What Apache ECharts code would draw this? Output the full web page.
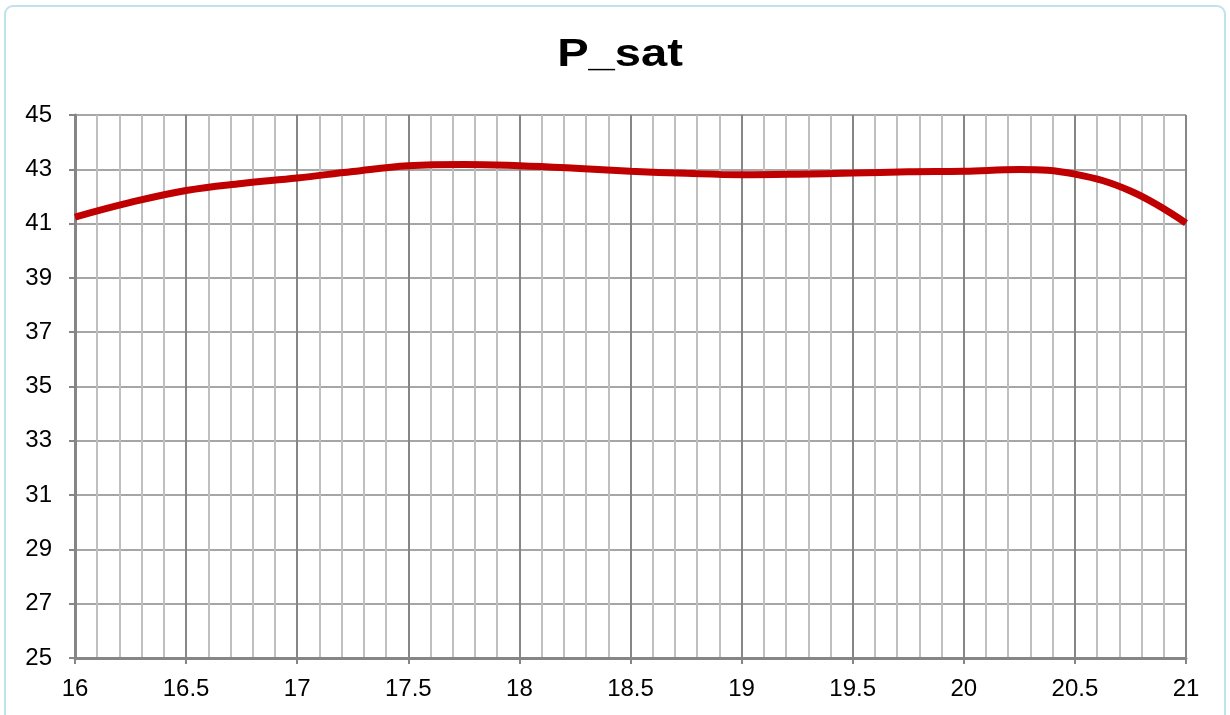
<!DOCTYPE html>
<html><head><meta charset="utf-8">
<script src="https://cdn.jsdelivr.net/npm/echarts@6/dist/echarts.min.js"></script>
<style>html,body{margin:0;padding:0;background:#fff}#c{width:1230px;height:715px}</style>
</head><body><div id="c"></div>
<script>
const xValues = [16, 16.25, 16.5, 16.75, 17, 17.25, 17.5, 17.75, 18, 18.25, 18.5, 18.75, 19, 19.25, 19.5, 19.75, 20, 20.25, 20.5, 20.75, 21];
const pSat   = [41.24, 41.78, 42.22, 42.48, 42.68, 42.92, 43.13, 43.18, 43.13, 43.04, 42.93, 42.85, 42.8, 42.82, 42.86, 42.91, 42.93, 42.99, 42.82, 42.2, 41.02];
const titleText = 'P_sat';
const chart = echarts.init(document.getElementById('c'));
const ff = '"Liberation Sans", Arial, sans-serif';
chart.setOption({
  animation: false,
  graphic: [
    { type: 'rect', shape: { x: 5, y: 6, width: 1220, height: 720, r: 8 }, style: { fill: 'none', stroke: '#bfe3ea', lineWidth: 2 }, z: -1 },
    { type: 'text', x: 620, y: 37, scaleX: 1.24, scaleY: 1,
      style: { text: titleText, font: 'bold 38px "Liberation Sans", Arial, sans-serif', fill: '#000', textAlign: 'center' } }
  ],
  grid: { left: 75, right: 44, top: 115, bottom: 57 },
  xAxis: {
    type: 'value', min: 16, max: 21, interval: 0.5,
    axisLine: { lineStyle: { color: '#868686', width: 3 } },
    axisTick: { show: true, length: 6, lineStyle: { color: '#868686', width: 2 } },
    axisLabel: { color: '#000', fontFamily: ff, fontSize: 24, margin: 19 },
    splitLine: { show: true, lineStyle: { color: '#868686', width: 2 } },
    minorTick: { show: false, splitNumber: 5 },
    minorSplitLine: { show: true, lineStyle: { color: '#bfbfbf', width: 2 } }
  },
  yAxis: {
    type: 'value', min: 25, max: 45, interval: 2,
    axisLine: { show: true, lineStyle: { color: '#868686', width: 3 } },
    axisTick: { show: true, length: 6, lineStyle: { color: '#868686', width: 2 } },
    axisLabel: { color: '#000', fontFamily: ff, fontSize: 24, margin: 23 },
    splitLine: { show: true, lineStyle: { color: '#a6a6a6', width: 2 } }
  },
  series: [{
    type: 'line', data: xValues.map((x, i) => [x, pSat[i]]),
    smooth: 0.4, symbol: 'none',
    lineStyle: { color: '#c00000', width: 7 }
  }]
});
</script></body></html>
